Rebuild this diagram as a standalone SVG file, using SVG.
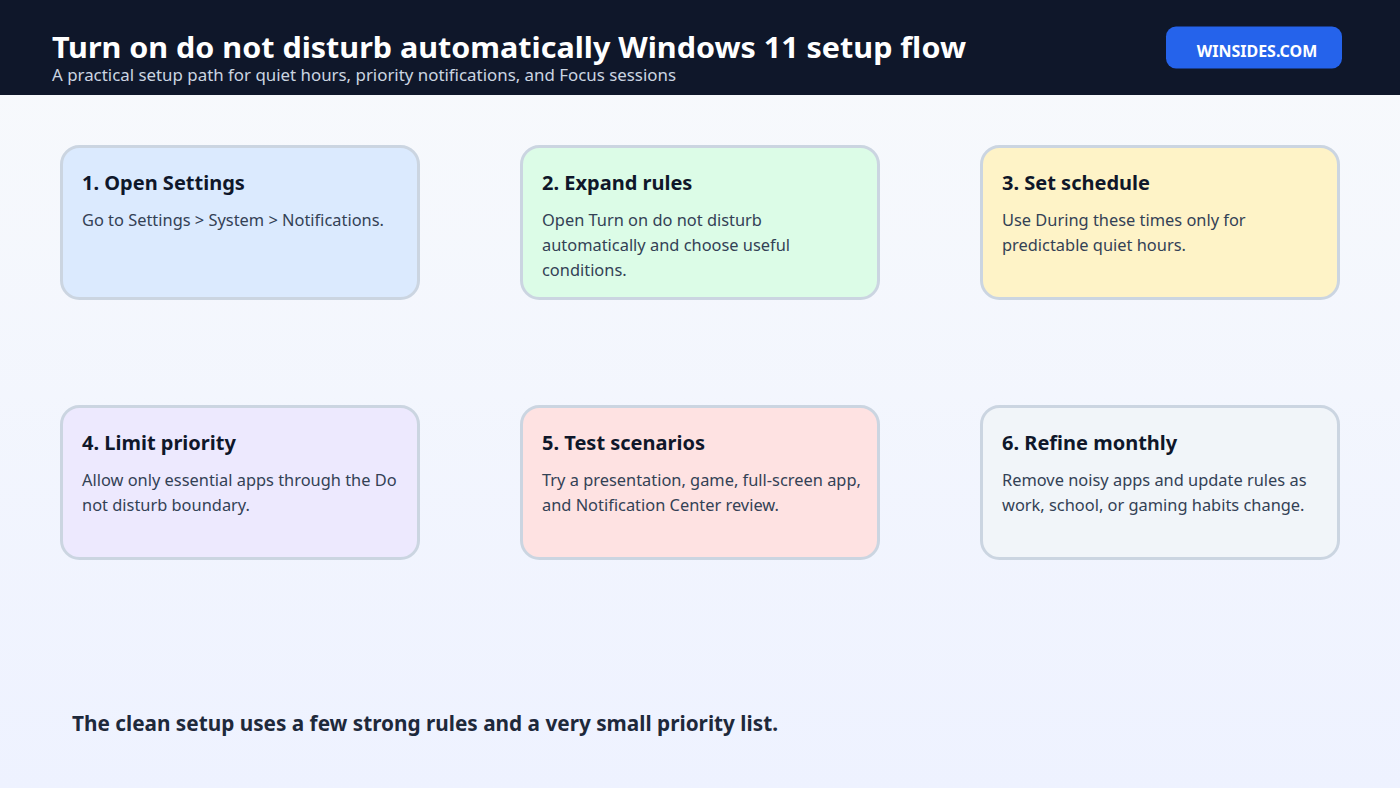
<svg xmlns="http://www.w3.org/2000/svg" width="1400" height="788" viewBox="0 0 1400 788">
<defs>
<linearGradient id="bg" x1="0" y1="0" x2="0" y2="1">
<stop offset="0" stop-color="#f8fafc"/>
<stop offset="1" stop-color="#eef2ff"/>
</linearGradient>
</defs>
<style>
.card{stroke:#cbd5e1;stroke-width:3}
.ct{font-family:"Noto Sans","Open Sans",sans-serif;font-weight:700;font-size:20px;fill:#0f172a}
.cb{font-family:"Noto Sans","Open Sans",sans-serif;font-size:16.4px;fill:#334155}
</style>
<rect x="0" y="0" width="1400" height="788" fill="url(#bg)"/>
<g id="header">
<rect x="0" y="0" width="1400" height="95" fill="#0f172a"/>
<text x="52" y="58" font-family="Noto Sans, sans-serif" font-weight="700" font-size="29" fill="#ffffff" textLength="914" lengthAdjust="spacingAndGlyphs">Turn on do not disturb automatically Windows 11 setup flow</text>
<text x="52" y="81" font-family="Noto Sans, sans-serif" font-size="16" fill="#cbd5e1" textLength="624" lengthAdjust="spacingAndGlyphs">A practical setup path for quiet hours, priority notifications, and Focus sessions</text>
</g>
<g id="badge">
<rect x="1166" y="26.5" width="176" height="42" rx="10" fill="#2563eb"/>
<text x="1257" y="57" text-anchor="middle" font-family="Noto Sans, sans-serif" font-weight="700" font-size="16" fill="#ffffff">WINSIDES.COM</text>
</g>
<g id="node1">
<rect class="card" x="61.5" y="146.5" width="357" height="152" rx="18" fill="#dbeafe"/>
<text class="ct" x="82" y="190">1. Open Settings</text>
<text class="cb" x="82" y="226">Go to Settings &gt; System &gt; Notifications.</text>
</g>
<g id="node2">
<rect class="card" x="521.5" y="146.5" width="357" height="152" rx="18" fill="#dcfce7"/>
<text class="ct" x="542" y="190">2. Expand rules</text>
<text class="cb" x="542" y="226">Open Turn on do not disturb</text>
<text class="cb" x="542" y="251">automatically and choose useful</text>
<text class="cb" x="542" y="276">conditions.</text>
</g>
<g id="node3">
<rect class="card" x="981.5" y="146.5" width="357" height="152" rx="18" fill="#fef3c7"/>
<text class="ct" x="1002" y="190">3. Set schedule</text>
<text class="cb" x="1002" y="226">Use During these times only for</text>
<text class="cb" x="1002" y="251">predictable quiet hours.</text>
</g>
<g id="node4">
<rect class="card" x="61.5" y="406.5" width="357" height="152" rx="18" fill="#ede9fe"/>
<text class="ct" x="82" y="450">4. Limit priority</text>
<text class="cb" x="82" y="486">Allow only essential apps through the Do</text>
<text class="cb" x="82" y="511">not disturb boundary.</text>
</g>
<g id="node5">
<rect class="card" x="521.5" y="406.5" width="357" height="152" rx="18" fill="#fee2e2"/>
<text class="ct" x="542" y="450">5. Test scenarios</text>
<text class="cb" x="542" y="486">Try a presentation, game, full-screen app,</text>
<text class="cb" x="542" y="511">and Notification Center review.</text>
</g>
<g id="node6">
<rect class="card" x="981.5" y="406.5" width="357" height="152" rx="18" fill="#f1f5f9"/>
<text class="ct" x="1002" y="450">6. Refine monthly</text>
<text class="cb" x="1002" y="486">Remove noisy apps and update rules as</text>
<text class="cb" x="1002" y="511">work, school, or gaming habits change.</text>
</g>
<g id="connectors"></g>
<g id="footer">
<text x="72" y="731" font-family="Noto Sans, sans-serif" font-weight="700" font-size="21" fill="#1e293b" textLength="706" lengthAdjust="spacingAndGlyphs">The clean setup uses a few strong rules and a very small priority list.</text>
</g>
</svg>
